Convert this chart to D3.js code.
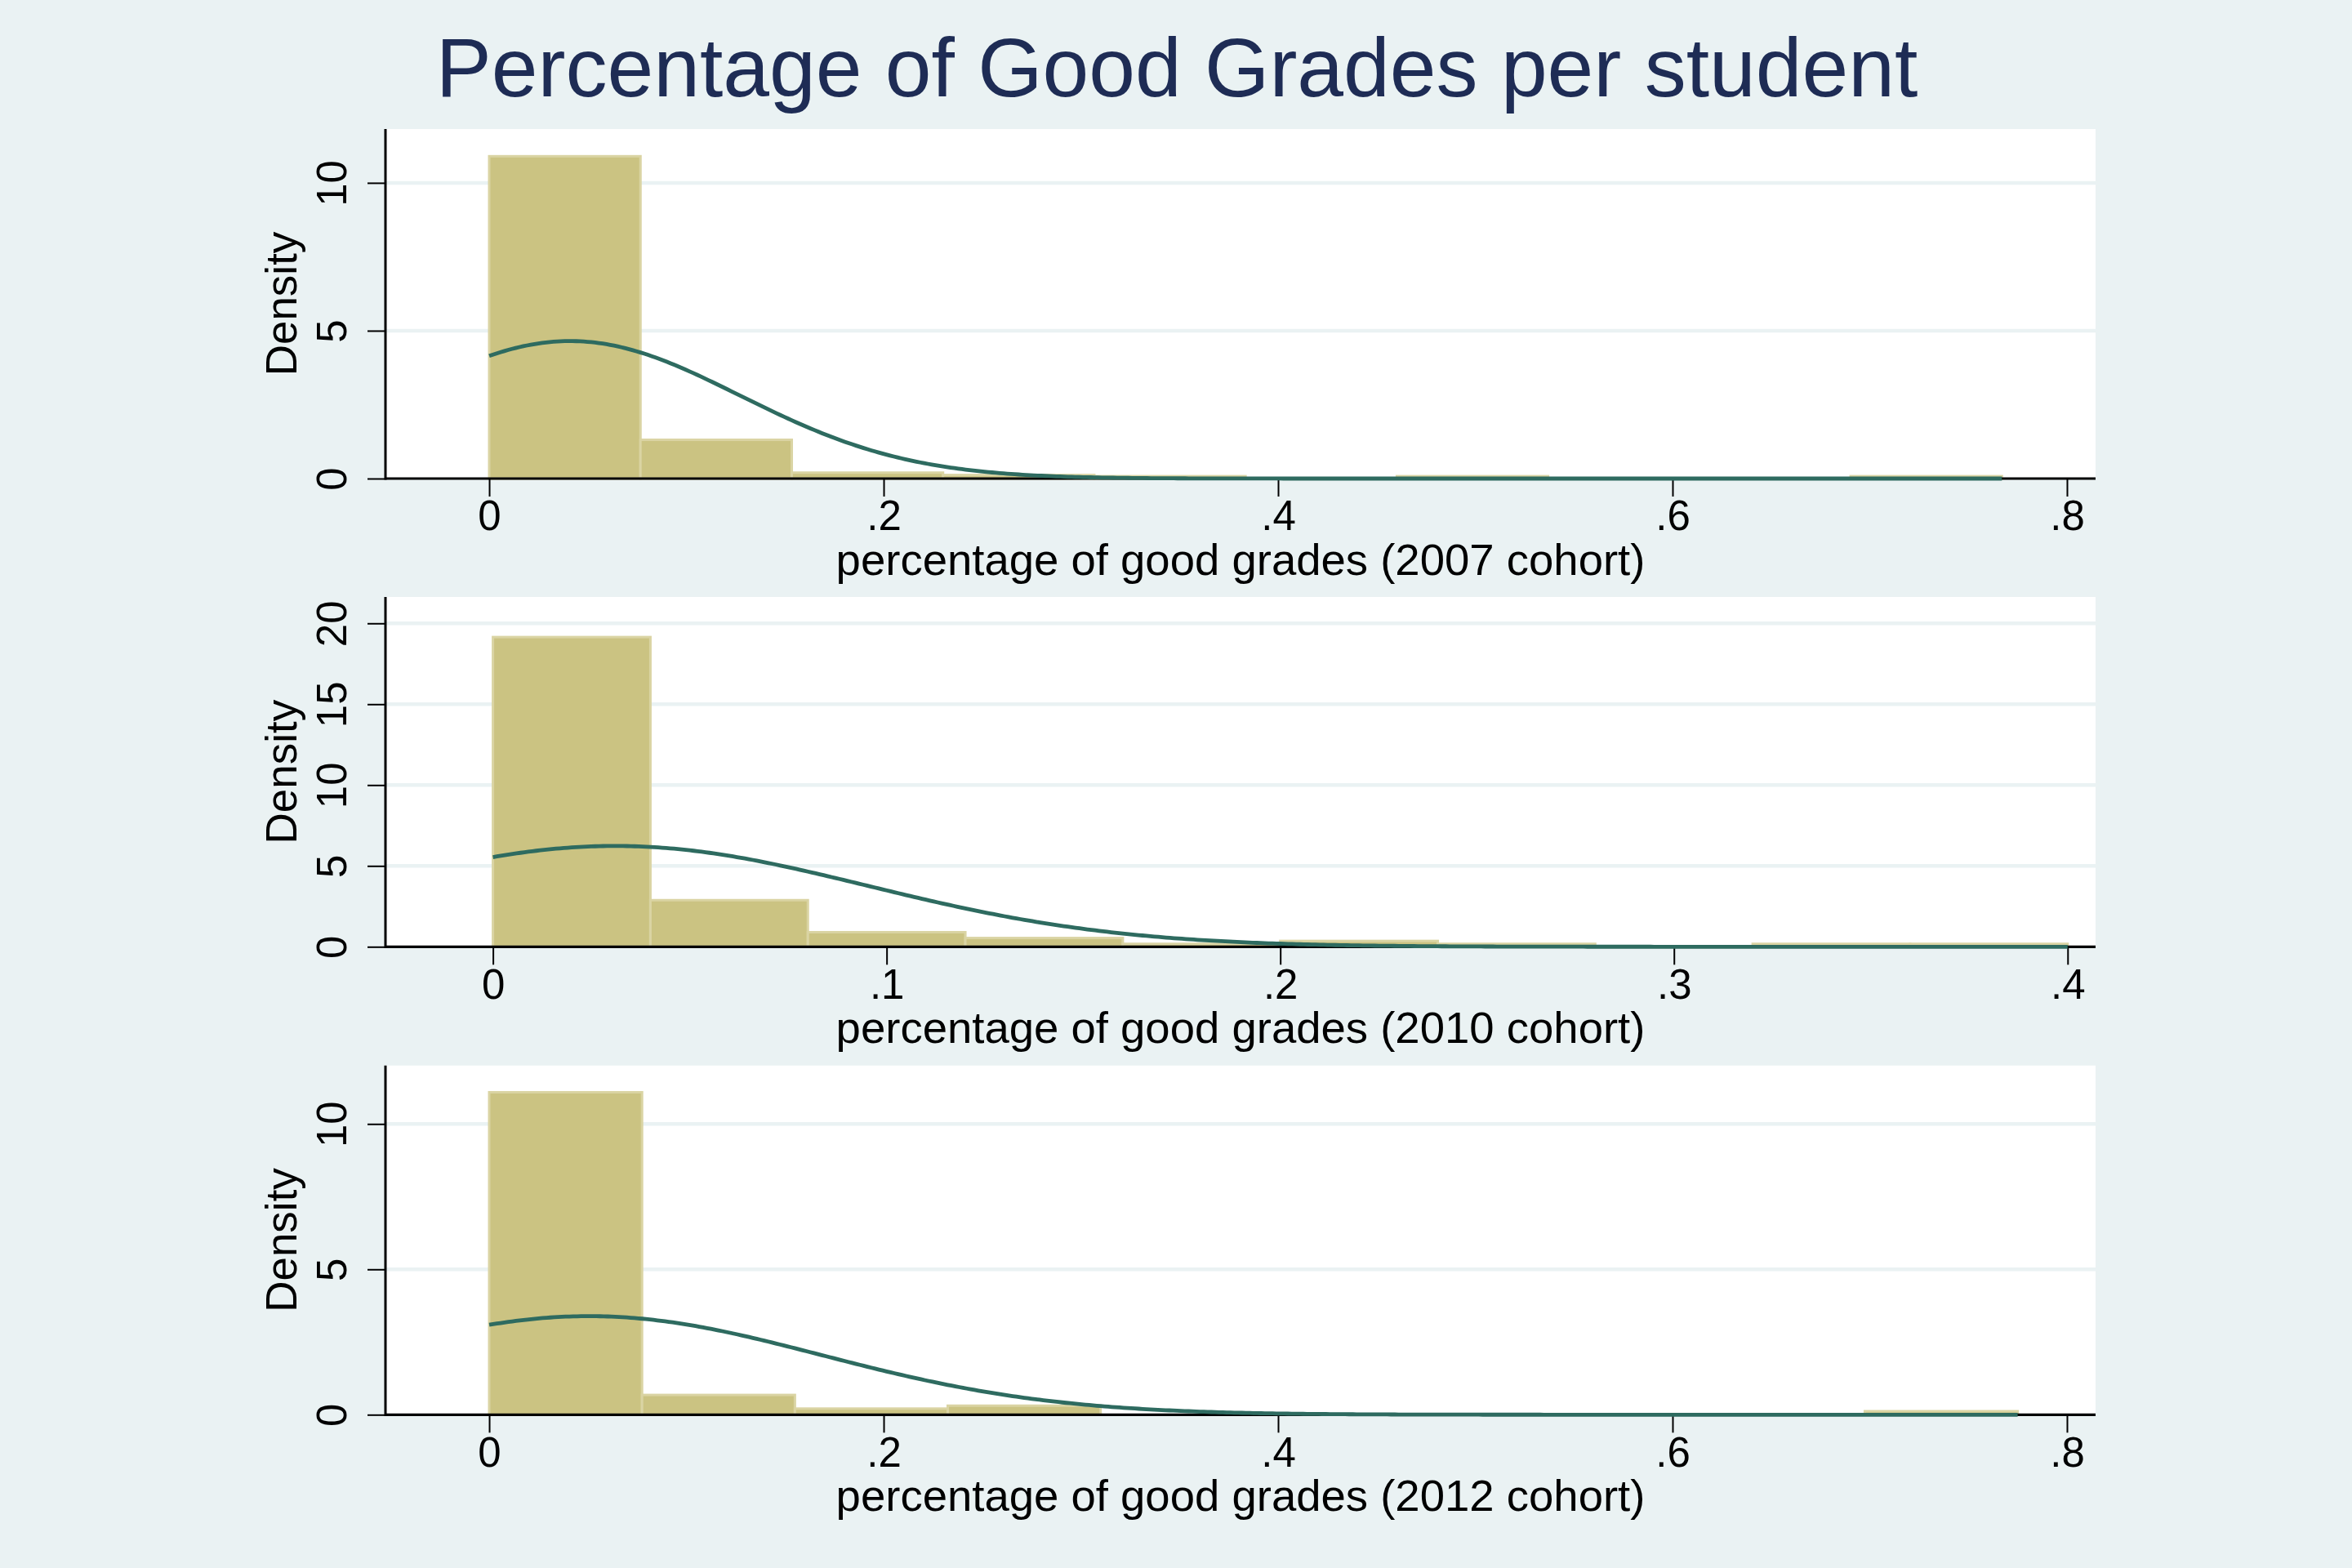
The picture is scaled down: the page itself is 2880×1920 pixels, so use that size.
<!DOCTYPE html>
<html>
<head>
<meta charset="utf-8">
<script src="https://cdn.jsdelivr.net/npm/d3@7"></script>
<style>
  html, body { margin: 0; padding: 0; background: #eaf2f3; }
  svg { display: block; }
</style>
</head>
<body>
<script>
// ---------------- DATA ----------------
const chartTitle = "Percentage of Good Grades per student";
const cohorts = ["2007", "2010", "2012"];
const xAxisTitles = [
  "percentage of good grades (2007 cohort)",
  "percentage of good grades (2010 cohort)",
  "percentage of good grades (2012 cohort)"
];
const yAxisTitle = "Density";

// histogram bin widths (bins start at 0)
const binWidths = [0.0767, 0.04, 0.0775];

// bar heights (density), one per bin
const density2007 = [10.90, 1.31, 0.20, 0.12, 0.08, 0, 0.08, 0, 0, 0.08];
const density2010 = [19.15, 2.88, 0.90, 0.54, 0.18, 0.36, 0.18, 0, 0.18, 0.18];
const density2012 = [11.09, 0.68, 0.21, 0.31, 0, 0, 0, 0, 0, 0.12];

// normal-density overlay parameters (mean, standard deviation)
const normalMean = [0.041, 0.031, 0.0505];
const normalSD   = [0.0858, 0.064, 0.1177];

// tick values
const xTicks2007 = [0, 0.2, 0.4, 0.6, 0.8];
const xTicks2010 = [0, 0.1, 0.2, 0.3, 0.4];
const xTicks2012 = [0, 0.2, 0.4, 0.6, 0.8];
const yTicks2007 = [0, 5, 10];
const yTicks2010 = [0, 5, 10, 15, 20];
const yTicks2012 = [0, 5, 10];

// ---------------- LAYOUT ----------------
const W = 2880, H = 1920;
const plotLeft = 472, plotRight = 2566;
const panels = [
  { top: 158,   bottom: 586,    xDomain: [-0.0526, 0.8145], yMax: 11.82, dens: density2007, xt: xTicks2007, yt: yTicks2007 },
  { top: 731,   bottom: 1159.3, xDomain: [-0.0273, 0.4071], yMax: 21.63, dens: density2010, xt: xTicks2010, yt: yTicks2010 },
  { top: 1304.7,bottom: 1732.3, xDomain: [-0.0526, 0.8145], yMax: 12.01, dens: density2012, xt: xTicks2012, yt: yTicks2012 }
];

const FONT = "'Liberation Sans', Arial, Helvetica, sans-serif";
const barFill = "#cbc382";
const barStroke = "#dad4a3";
const curveColor = "#2e6b60";
const bgColor = "#eaf2f3";

const fmt = d => d === 0 ? "0" : String(+d.toFixed(4)).replace(/^0\./, ".");

const svg = d3.select("body").append("svg")
  .attr("width", W).attr("height", H)
  .attr("viewBox", `0 0 ${W} ${H}`);

svg.append("rect").attr("width", W).attr("height", H).attr("fill", bgColor);

svg.append("text")
  .attr("x", 1441).attr("y", 118)
  .attr("text-anchor", "middle")
  .attr("font-family", FONT)
  .attr("font-size", 102)
  .attr("fill", "#1e2c55")
  .text(chartTitle);

const normalPdf = (x, m, s) => Math.exp(-((x - m) ** 2) / (2 * s * s)) / (s * Math.sqrt(2 * Math.PI));

panels.forEach((p, i) => {
  const x = d3.scaleLinear().domain(p.xDomain).range([plotLeft, plotRight]);
  const y = d3.scaleLinear().domain([0, p.yMax]).range([p.bottom, p.top]);
  const g = svg.append("g");

  // plot region
  g.append("rect")
    .attr("x", plotLeft).attr("y", p.top)
    .attr("width", plotRight - plotLeft).attr("height", p.bottom - p.top)
    .attr("fill", "#ffffff");

  // gridlines
  g.selectAll(".grid").data(p.yt.filter(v => v > 0)).enter().append("line")
    .attr("x1", plotLeft).attr("x2", plotRight)
    .attr("y1", d => y(d)).attr("y2", d => y(d))
    .attr("stroke", bgColor).attr("stroke-width", 4.5);

  // bars
  const bw = binWidths[i];
  const bins = p.dens.map((v, k) => ({ x0: k * bw, x1: (k + 1) * bw, v }));
  g.selectAll(".bar").data(bins).enter().append("rect")
    .attr("x", d => x(d.x0))
    .attr("width", d => x(d.x1) - x(d.x0))
    .attr("y", d => y(d.v))
    .attr("height", d => y(0) - y(d.v))
    .attr("fill", barFill)
    .attr("stroke", barStroke)
    .attr("stroke-width", 3);

  // x axis
  const xAxis = g.append("g")
    .attr("transform", `translate(0,${p.bottom})`)
    .call(d3.axisBottom(x).tickValues(p.xt).tickFormat(fmt).tickSize(22).tickSizeOuter(0).tickPadding(5));
  xAxis.select(".domain").attr("stroke", "#000").attr("stroke-width", 3.2)
    .attr("d", `M${plotLeft},0H${plotRight}`);
  xAxis.selectAll(".tick line").attr("stroke", "#000").attr("stroke-width", 2);
  xAxis.selectAll(".tick text").attr("font-family", FONT).attr("font-size", 51).attr("fill", "#000");

  // y axis
  const yAxis = g.append("g")
    .attr("transform", `translate(${plotLeft},0)`)
    .call(d3.axisLeft(y).tickValues(p.yt).tickFormat(fmt).tickSize(22).tickSizeOuter(0));
  yAxis.select(".domain").attr("stroke", "#000").attr("stroke-width", 3)
    .attr("d", `M0,${p.top}V${p.bottom + 1.6}`);
  yAxis.selectAll(".tick line").attr("stroke", "#000").attr("stroke-width", 2);
  yAxis.selectAll(".tick text")
    .attr("x", null).attr("dy", null)
    .attr("text-anchor", "middle")
    .attr("transform", "translate(-48,0) rotate(-90)")
    .attr("font-family", FONT).attr("font-size", 51).attr("fill", "#000");

  // normal density curve
  const n = 400, lo = 0, hi = p.dens.length * bw;
  const pts = d3.range(n + 1).map(j => lo + (hi - lo) * j / n);
  g.append("path")
    .datum(pts)
    .attr("fill", "none")
    .attr("stroke", curveColor)
    .attr("stroke-width", 4.8)
    .attr("stroke-linejoin", "round")
    .attr("d", d3.line().x(d => x(d)).y(d => y(normalPdf(d, normalMean[i], normalSD[i])))(pts));

  // axis titles
  g.append("text")
    .attr("x", (plotLeft + plotRight) / 2).attr("y", p.bottom + 118)
    .attr("text-anchor", "middle")
    .attr("font-family", FONT).attr("font-size", 54.5).attr("fill", "#000")
    .text(xAxisTitles[i]);

  g.append("text")
    .attr("transform", `translate(363,${(p.top + p.bottom) / 2}) rotate(-90)`)
    .attr("text-anchor", "middle")
    .attr("font-family", FONT).attr("font-size", 53).attr("fill", "#000")
    .text(yAxisTitle);
});
</script>
</body>
</html>
